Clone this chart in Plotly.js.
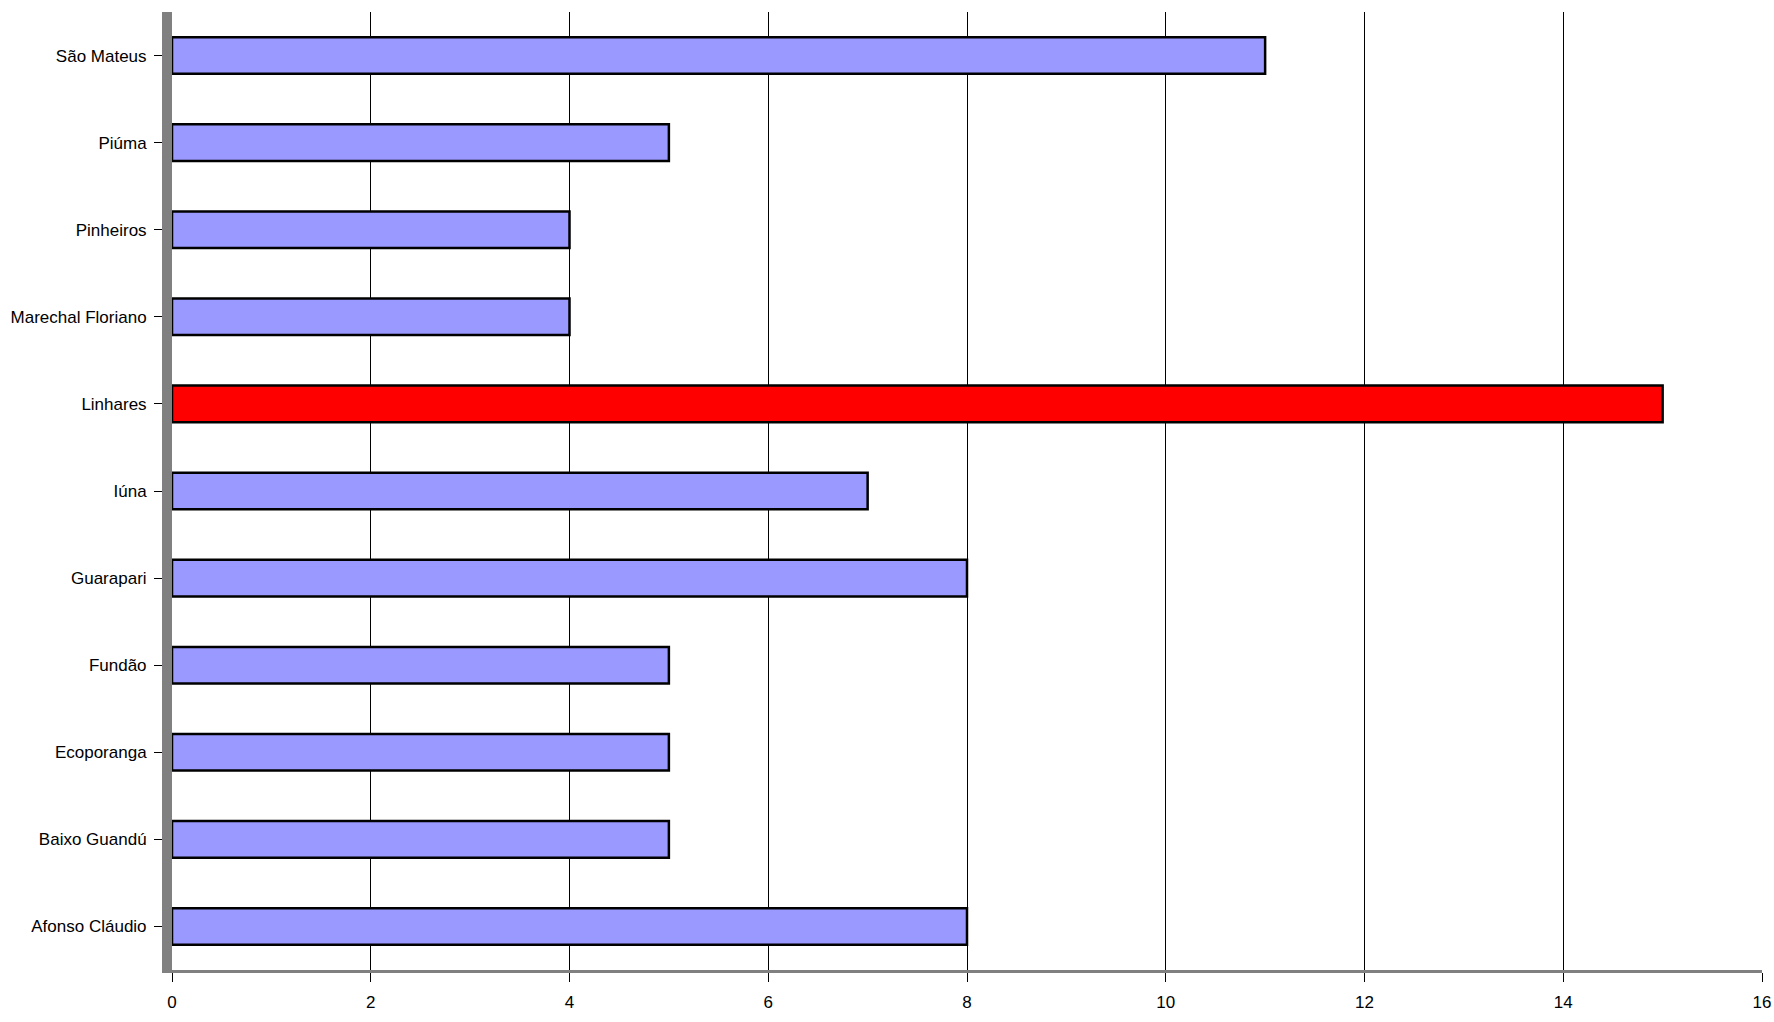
<!DOCTYPE html>
<html><head><meta charset="utf-8">
<script src="https://cdn.plot.ly/plotly-3.0.1.min.js"></script>
<style>body{margin:0;background:#fff}</style></head>
<body><div id="c" style="width:1774px;height:1022px"></div>
<script>
const categories = ["Afonso Cláudio","Baixo Guandú","Ecoporanga","Fundão","Guarapari","Iúna","Linhares","Marechal Floriano","Pinheiros","Piúma","São Mateus"];
const values = [8,5,5,5,8,7,15,4,4,5,11];
const colors = categories.map(c => c === "Linhares" ? "#FF0000" : "#9999FF");
const xTicks = [0,2,4,6,8,10,12,14,16];

Plotly.newPlot("c", [{
  type: "bar", orientation: "h", y: categories, x: values, width: 0.42,
  marker: {color: colors, line: {color: "#000", width: 2.5}},
  hoverinfo: "x+y"
}], {
  width: 1774, height: 1022,
  margin: {l: 172, r: 12, t: 12, b: 52},
  paper_bgcolor: "#fff", plot_bgcolor: "#fff",
  showlegend: false,
  font: {family: "Liberation Sans Narrow, Liberation Sans, Arial", size: 17, color: "#000"},
  xaxis: {range: [0,16], tickvals: xTicks, ticktext: xTicks.map(String), showgrid: true, gridcolor: "#000", gridwidth: 1,
    zeroline: false, showline: true, linecolor: "#808080", linewidth: 3, ticks: "outside", ticklen: 9, tickcolor: "#000", ticklabelstandoff: 6},
  yaxis: {type: "category", categoryorder: "array", categoryarray: categories, range: [-0.5,10.5],
    showline: true, linecolor: "#808080", linewidth: 10, ticks: "outside", ticklen: 8, tickcolor: "#000", ticklabelstandoff: 4, showgrid: false}
}, {displayModeBar: false});
</script></body></html>
